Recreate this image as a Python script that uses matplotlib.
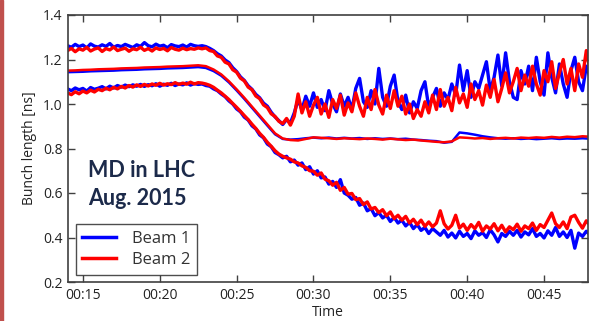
import numpy as np
import matplotlib
matplotlib.use("Agg")
import matplotlib.pyplot as plt
from matplotlib.patches import Rectangle

# ---------------- data ----------------
# sampling grid of the noisy traces (minutes after 00:00)
sample_minutes = np.arange(14.0, 48.0 + 0.001, 0.25)
# sampling grid of the smooth (mean) traces
mean_minutes = np.arange(14.0, 48.0 + 0.001, 0.5)

beam1_upper = [
    1.262, 1.255, 1.268, 1.258, 1.265, 1.252, 1.270, 1.260, 1.256, 1.266,
    1.259, 1.272, 1.255, 1.263, 1.258, 1.268, 1.261, 1.254, 1.266, 1.259,
    1.276, 1.262, 1.257, 1.269, 1.260, 1.264, 1.253, 1.267, 1.261, 1.258,
    1.265, 1.256, 1.268, 1.262, 1.259, 1.262,
    1.258, 1.250, 1.240, 1.226, 1.216, 1.198, 1.186, 1.163, 1.146, 1.122,
    1.106, 1.082, 1.066, 1.043, 1.028, 1.004, 0.990, 0.963, 0.942, 0.925,
    0.908, 0.930, 0.915, 0.960,
    1.020, 0.975, 1.035, 0.990, 1.050, 0.985, 1.020, 0.970, 1.060, 1.000,
    0.965, 1.045, 0.990, 1.030, 0.975, 1.070, 1.115, 1.010, 0.985, 1.060,
    1.000, 1.160, 1.030, 0.990, 1.080, 1.130, 1.010, 0.975, 1.040, 0.960,
    1.010, 0.980, 1.060, 1.100, 0.985, 1.030, 1.070, 0.990, 1.050, 1.020,
    1.090, 1.040, 1.175, 1.060, 1.150, 1.030, 1.100, 1.070, 1.130, 1.190,
    1.060, 1.120, 1.220, 1.080, 1.230, 1.100, 1.030, 1.020, 1.150, 1.090,
    1.170, 1.060, 1.210, 1.100, 1.040, 1.230, 1.120, 1.050, 1.180, 1.090,
    1.030, 1.150, 1.210, 1.100, 1.060, 1.170, 1.120,
]
beam2_upper = [
    1.240, 1.250, 1.235, 1.248, 1.242, 1.255, 1.238, 1.247, 1.252, 1.236,
    1.249, 1.243, 1.256, 1.240, 1.246, 1.251, 1.237, 1.248, 1.244, 1.255,
    1.241, 1.249, 1.238, 1.252, 1.245, 1.250, 1.239, 1.254, 1.246, 1.242,
    1.251, 1.244, 1.249, 1.246, 1.252, 1.248,
    1.252, 1.240, 1.236, 1.216, 1.210, 1.188, 1.180, 1.154, 1.143, 1.116,
    1.104, 1.076, 1.064, 1.036, 1.024, 0.996, 0.984, 0.956, 0.944, 0.922,
    0.912, 0.935, 0.905, 0.945,
    1.045, 0.960, 1.010, 0.945, 0.995, 1.030, 0.955, 1.000, 0.940, 1.020,
    0.980, 1.040, 0.950, 1.005, 0.965, 1.050, 0.990, 0.945, 1.030, 0.975,
    1.065, 0.995, 0.955, 1.040, 0.980, 1.060, 0.990, 1.035, 0.955, 1.000,
    0.935, 0.975, 0.945, 1.010, 0.960, 1.040, 0.975, 1.065, 0.990, 1.030,
    0.970, 1.075, 1.005, 1.045, 0.985, 1.090, 1.020, 1.060, 0.995, 1.085,
    1.030, 1.110, 1.010, 1.070, 1.140, 1.050, 1.100, 1.160, 1.060, 1.130,
    1.080, 1.170, 1.090, 1.040, 1.150, 1.100, 1.190, 1.070, 1.140, 1.200,
    1.090, 1.160, 1.060, 1.180, 1.120, 1.240, 1.150,
]
beam1_lower = [
    1.068, 1.060, 1.072, 1.064, 1.070, 1.058, 1.074, 1.066, 1.071, 1.078,
    1.068, 1.080, 1.072, 1.083, 1.076, 1.085, 1.078, 1.086, 1.080, 1.088,
    1.079, 1.087, 1.082, 1.091, 1.080, 1.089, 1.084, 1.093, 1.083, 1.090,
    1.086, 1.095, 1.085, 1.092, 1.088, 1.090, 1.083, 1.080, 1.068, 1.060,
    1.045, 1.033, 1.014, 1.000, 0.978, 0.965, 0.941, 0.928, 0.902, 0.888,
    0.861, 0.848, 0.820, 0.808, 0.782, 0.772, 0.758, 0.765, 0.740, 0.748,
    0.725, 0.735, 0.705, 0.718, 0.685, 0.700, 0.668, 0.672, 0.640, 0.652,
    0.625, 0.660, 0.600, 0.590, 0.572, 0.580, 0.545, 0.555, 0.520, 0.530,
    0.498, 0.512, 0.488, 0.500, 0.472, 0.490, 0.465, 0.478, 0.452, 0.468,
    0.440, 0.458, 0.432, 0.445, 0.418, 0.440, 0.425, 0.410, 0.432, 0.402,
    0.420, 0.398, 0.428, 0.405, 0.418, 0.395, 0.430, 0.410, 0.422, 0.400,
    0.435, 0.412, 0.380, 0.418, 0.405, 0.428, 0.410, 0.432, 0.402, 0.425,
    0.412, 0.440, 0.405, 0.418, 0.398, 0.430, 0.410, 0.445, 0.405, 0.425,
    0.400, 0.432, 0.352, 0.420, 0.405, 0.428, 0.412,
]
beam2_lower = [
    1.050, 1.042, 1.055, 1.046, 1.058, 1.050, 1.062, 1.054, 1.066, 1.060,
    1.071, 1.064, 1.075, 1.068, 1.079, 1.072, 1.083, 1.076, 1.086, 1.079,
    1.088, 1.081, 1.090, 1.084, 1.093, 1.085, 1.091, 1.087, 1.096, 1.088,
    1.094, 1.089, 1.098, 1.090, 1.096, 1.094, 1.090, 1.084, 1.075, 1.062,
    1.050, 1.035, 1.020, 1.002, 0.985, 0.967, 0.948, 0.930, 0.909, 0.890,
    0.868, 0.850, 0.828, 0.810, 0.790, 0.775, 0.765, 0.758, 0.752, 0.740,
    0.735, 0.722, 0.715, 0.700, 0.698, 0.680, 0.690, 0.662, 0.655, 0.635,
    0.648, 0.612, 0.625, 0.595, 0.598, 0.570, 0.575, 0.548, 0.560, 0.528,
    0.535, 0.512, 0.525, 0.498, 0.515, 0.485, 0.500, 0.478, 0.495, 0.465,
    0.482, 0.458, 0.478, 0.450, 0.470, 0.448, 0.465, 0.520, 0.462, 0.438,
    0.455, 0.500, 0.442, 0.460, 0.432, 0.458, 0.440, 0.468, 0.428, 0.452,
    0.438, 0.462, 0.430, 0.455, 0.425, 0.448, 0.435, 0.460, 0.428, 0.452,
    0.440, 0.465, 0.432, 0.458, 0.445, 0.478, 0.510, 0.462, 0.445, 0.470,
    0.440, 0.492, 0.500, 0.468, 0.442, 0.475, 0.455,
]
beam1_mean = [
    1.143, 1.144, 1.145, 1.147, 1.148, 1.149, 1.150, 1.152, 1.153, 1.154,
    1.156, 1.157, 1.158, 1.160, 1.161, 1.162, 1.164, 1.166, 1.162, 1.148,
    1.127, 1.097, 1.061, 1.023, 0.983, 0.943, 0.903, 0.864, 0.843, 0.840,
    0.842, 0.846, 0.849, 0.846, 0.849, 0.845, 0.848, 0.845, 0.847, 0.843,
    0.846, 0.843, 0.845, 0.842, 0.844, 0.840, 0.838, 0.835, 0.833, 0.826,
    0.830, 0.872, 0.868, 0.862, 0.855, 0.850, 0.846, 0.844, 0.846, 0.843,
    0.845, 0.842, 0.844, 0.846, 0.843, 0.845, 0.844, 0.846, 0.844,
]
beam2_mean = [
    1.150, 1.151, 1.153, 1.154, 1.156, 1.157, 1.158, 1.160, 1.161, 1.162,
    1.164, 1.165, 1.166, 1.168, 1.169, 1.170, 1.172, 1.174, 1.170, 1.155,
    1.133, 1.102, 1.066, 1.028, 0.988, 0.948, 0.908, 0.868, 0.845, 0.838,
    0.836, 0.843, 0.850, 0.848, 0.846, 0.843, 0.846, 0.844, 0.842, 0.845,
    0.843, 0.840, 0.844, 0.841, 0.838, 0.840, 0.836, 0.833, 0.830, 0.828,
    0.832, 0.850, 0.848, 0.845, 0.847, 0.843, 0.846, 0.848, 0.845, 0.849,
    0.847, 0.850, 0.848, 0.852, 0.849, 0.853, 0.851, 0.855, 0.853,
]

x_ticks = [15, 20, 25, 30, 35, 40, 45]
x_tick_labels = ["00:15", "00:20", "00:25", "00:30", "00:35", "00:40", "00:45"]
y_ticks = [0.2, 0.4, 0.6, 0.8, 1.0, 1.2, 1.4]
y_tick_labels = ["0.2", "0.4", "0.6", "0.8", "1.0", "1.2", "1.4"]
series_labels = ["Beam 1", "Beam 2"]

# ---------------- figure ----------------
plt.rcParams["font.family"] = ["Open Sans", "DejaVu Sans"]
fig = plt.figure(figsize=(5.94, 3.21), dpi=100)
ax = fig.add_axes([68 / 594, 39 / 321, 520 / 594, 267 / 321])

BLUE = "#0000ff"
RED = "#ff0000"
lw_noisy = 2.4
lw_mean = 1.8

ax.plot(sample_minutes, beam1_upper, color=BLUE, lw=lw_noisy)
ax.plot(mean_minutes, beam1_mean, color=BLUE, lw=lw_mean)
ax.plot(sample_minutes, beam1_lower, color=BLUE, lw=lw_noisy, label=series_labels[0])
ax.plot(sample_minutes, beam2_upper, color=RED, lw=lw_noisy)
ax.plot(mean_minutes, beam2_mean, color=RED, lw=lw_mean)
ax.plot(sample_minutes, beam2_lower, color=RED, lw=lw_noisy, label=series_labels[1])

ax.set_xlim(14.03, 47.86)
ax.set_ylim(0.2, 1.4)
ax.set_xticks(x_ticks)
ax.set_xticklabels(x_tick_labels)
ax.set_yticks(y_ticks)
ax.set_yticklabels(y_tick_labels)

spine_col = "#404040"
for s in ax.spines.values():
    s.set_color(spine_col)
    s.set_linewidth(1.2)
ax.tick_params(direction="in", length=5, width=1, colors=spine_col,
               top=True, right=True, labelsize=10, labelcolor="#222222", pad=4)

ax.set_xlabel("Time", fontsize=10, color="#222222", labelpad=2)
ax.set_ylabel("Bunch length [ns]", fontsize=10, color="#222222", labelpad=4)

leg = ax.legend(loc="lower left", fontsize=12, frameon=True, fancybox=False,
                edgecolor="#222222", handlelength=2.0, handletextpad=1.0,
                borderaxespad=0.45, labelspacing=0.3, borderpad=0.4)
leg.get_frame().set_linewidth(1.0)
for line in leg.get_lines():
    line.set_linewidth(2.5)
for t in leg.get_texts():
    t.set_color("#333333")

navy = "#1c2a4a"
ax.text(0.038, 0.393, "MD in LHC", transform=ax.transAxes, fontsize=15.5,
        fontweight="bold", family=["Lato", "DejaVu Sans"], color=navy,
        ha="left", va="baseline")
ax.text(0.038, 0.288, "Aug. 2015", transform=ax.transAxes, fontsize=15.5,
        fontweight="bold", family=["Lato", "DejaVu Sans"], color=navy,
        ha="left", va="baseline")

# slide border on the left
fig.patches.append(Rectangle((0, 0), 3 / 594, 1, transform=fig.transFigure,
                             color="#c0504d", zorder=10))

fig.savefig("out.png", dpi=100)
